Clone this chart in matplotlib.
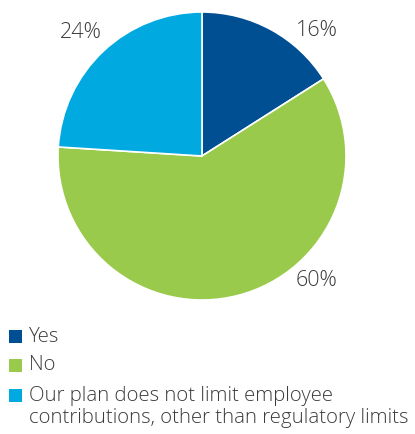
import matplotlib.pyplot as plt
from matplotlib.patches import Rectangle

# survey answers, percent of respondents
answers = ['Yes', 'No', 'Our plan does not limit employee\ncontributions, other than regulatory limits']
shares = [16, 60, 24]
colors = ['#004f93', '#9aca4c', '#00a9e0']

W, H = 415, 434
fig = plt.figure(figsize=(W / 100, H / 100), dpi=100)
ax = fig.add_axes([0, 0, 1, 1])

plt.rcParams['font.family'] = ['Open Sans', 'DejaVu Sans']
txt_color = '#3c3c3c'

cx, cy, r = 202, H - 156, 144
wedges, _ = ax.pie(shares, colors=colors, startangle=90, counterclock=False,
                   center=(cx, cy), radius=r, frame=True,
                   wedgeprops=dict(edgecolor='white', linewidth=1.2))
ax.set_xlim(0, W)
ax.set_ylim(0, H)
ax.set_aspect('equal')
ax.axis('off')

# percentage labels outside the slices
label_pos = [(317, H - 31), (316, H - 281), (81, H - 32)]
for (x, y), v in zip(label_pos, shares):
    ax.text(x, y, f'{v}%', ha='center', va='center', fontsize=15.5,
            color=txt_color, fontweight='light')

# legend drawn by hand down the left side
rows = [H - 336.5, H - 365.5, H - 395.5]
for y, lab, c in zip(rows, answers, colors):
    ax.add_patch(Rectangle((9, y - 6.5), 13, 13, facecolor=c, edgecolor='none'))
    ax.text(29, y + 10, lab, ha='left', va='top', fontsize=14.7, color=txt_color,
            fontweight='light', linespacing=1.17)

fig.savefig('out.png', dpi=100)
